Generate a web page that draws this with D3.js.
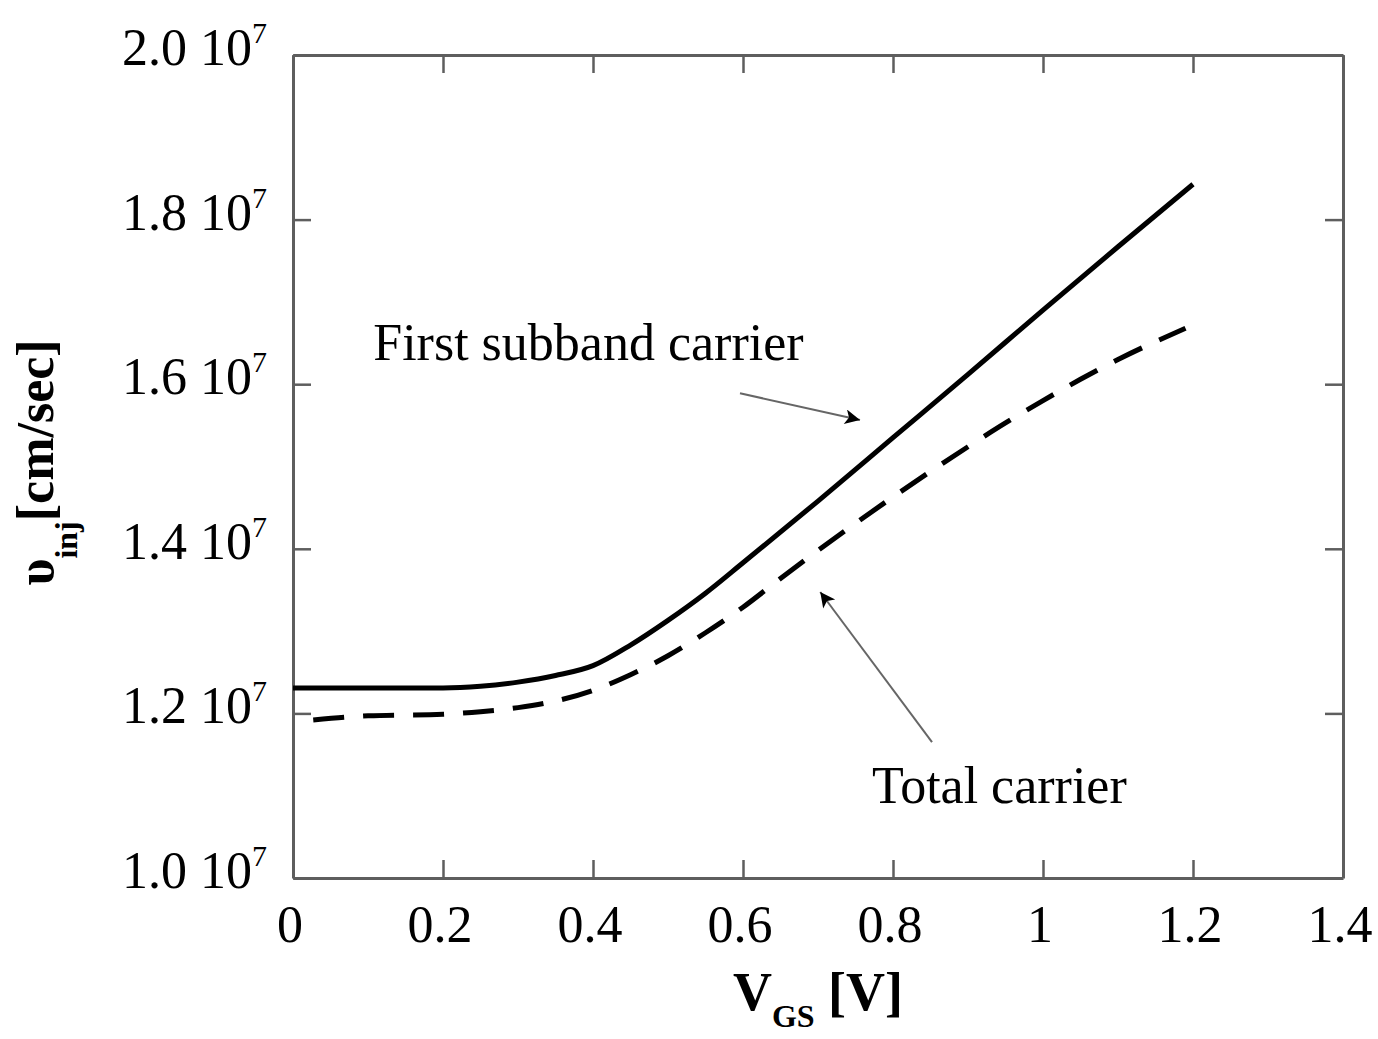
<!DOCTYPE html>
<html>
<head>
<meta charset="utf-8">
<script src="https://cdn.jsdelivr.net/npm/d3@7"></script>
<style>
  html, body { margin: 0; padding: 0; background: #fff; }
  svg { display: block; }
  text { font-family: "Liberation Serif", "Times New Roman", serif; fill: #000; }
</style>
</head>
<body>
<div id="chart"></div>
<script>
// V_GS [V] and injection velocity [1e7 cm/sec]
const firstVgs = [0, 0.1, 0.2, 0.25, 0.3, 0.35, 0.4, 0.45, 0.5, 0.55, 0.6, 0.7, 0.8, 0.9, 1.0, 1.1, 1.2];
const firstVinj = [1.231, 1.231, 1.231, 1.233, 1.238, 1.246, 1.258, 1.283, 1.313, 1.346, 1.383, 1.458, 1.535, 1.612, 1.690, 1.767, 1.843];

const totalVgs = [0.027, 0.1, 0.2, 0.25, 0.3, 0.35, 0.4, 0.45, 0.5, 0.55, 0.6, 0.65, 0.7, 0.75, 0.8, 0.85, 0.9, 0.95, 1.0, 1.05, 1.1, 1.19];
const totalVinj = [1.192, 1.197, 1.199, 1.202, 1.207, 1.215, 1.228, 1.247, 1.270, 1.298, 1.329, 1.364, 1.398, 1.431, 1.463, 1.494, 1.524, 1.553, 1.580, 1.606, 1.630, 1.668];

const xTicks = [0, 0.2, 0.4, 0.6, 0.8, 1, 1.2, 1.4];
const yTicks = [1.0, 1.2, 1.4, 1.6, 1.8, 2.0];

// annotation labels and their arrows (data coordinates)
const labelTexts = ["First subband carrier", "Total carrier"];
const labelAt = [[0.107, 1.629], [0.772, 1.091]];
const arrowFrom = [[0.596, 1.589], [0.852, 1.165]];
const arrowTo = [[0.756, 1.5565], [0.703, 1.3475]];

const W = 1378, H = 1039;
const margin = { top: 55, right: 35, bottom: 161, left: 293 };

class InjectionVelocityChart {
  constructor(domId) {
    this._svg = d3.select(domId).append("svg")
      .attr("width", W)
      .attr("height", H);
    this._w = W - margin.left - margin.right;
    this._h = H - margin.top - margin.bottom;
    this._g = this._svg.append("g")
      .attr("transform", `translate(${margin.left},${margin.top})`);
    this._x = d3.scaleLinear().domain([0, 1.4]).range([0, this._w]);
    this._y = d3.scaleLinear().domain([1.0, 2.0]).range([this._h, 0]);
  }

  render() {
    this.renderFrame();
    this.renderAxes();
    this.renderCurves();
    this.renderAnnotations();
    this.renderTitles();
  }

  // 边框 + 四周刻度
  renderFrame() {
    const tickLen = 18;
    const frame = { stroke: "#5e5e5e", width: 3 };

    const mk = (axis, transform) => this._g.append("g")
      .attr("transform", transform)
      .call(axis)
      .call(g => g.select(".domain").attr("stroke", frame.stroke).attr("stroke-width", frame.width))
      .call(g => g.selectAll(".tick line").attr("stroke", frame.stroke).attr("stroke-width", 2.5))
      .call(g => g.selectAll(".tick text").remove());

    mk(d3.axisBottom(this._x).tickValues(xTicks).tickSizeInner(-tickLen).tickSizeOuter(0), `translate(0,${this._h})`);
    mk(d3.axisTop(this._x).tickValues(xTicks).tickSizeInner(-tickLen).tickSizeOuter(0), "translate(0,0)");
    mk(d3.axisLeft(this._y).tickValues(yTicks).tickSizeInner(-tickLen).tickSizeOuter(0), "translate(0,0)");
    mk(d3.axisRight(this._y).tickValues(yTicks).tickSizeInner(-tickLen).tickSizeOuter(0), `translate(${this._w},0)`);
  }

  // 刻度文字
  renderAxes() {
    const fmtX = d3.format("~g");
    const fmtY = d3.format(".1f");

    this._g.append("g").selectAll("text")
      .data(xTicks)
      .join("text")
      .attr("x", d => this._x(d) - 3)
      .attr("y", this._h + 64)
      .attr("text-anchor", "middle")
      .attr("font-size", 52)
      .text(d => fmtX(d));

    const yl = this._g.append("g").selectAll("text")
      .data(yTicks)
      .join("text")
      .attr("x", -26)
      .attr("y", d => this._y(d) + 10)
      .attr("text-anchor", "end")
      .attr("font-size", 52);
    yl.append("tspan").text(d => fmtY(d) + " 10");
    yl.append("tspan").attr("dy", -22).attr("font-size", 30).text("7");
  }

  renderCurves() {
    const line = d3.line()
      .x(d => this._x(d[0]))
      .y(d => this._y(d[1]))
      .curve(d3.curveMonotoneX);

    const first = d3.zip(firstVgs, firstVinj);
    const total = d3.zip(totalVgs, totalVinj);

    this._g.append("path")
      .datum(first)
      .attr("d", line)
      .attr("fill", "none")
      .attr("stroke", "#000")
      .attr("stroke-width", 5);

    this._g.append("path")
      .datum(total)
      .attr("d", line)
      .attr("fill", "none")
      .attr("stroke", "#000")
      .attr("stroke-width", 5)
      .attr("stroke-dasharray", "31,19");
  }

  renderAnnotations() {
    const x = this._x, y = this._y;

    this._svg.append("defs").append("marker")
      .attr("id", "head")
      .attr("viewBox", "0 0 10 10")
      .attr("refX", 10)
      .attr("refY", 5)
      .attr("markerUnits", "userSpaceOnUse")
      .attr("markerWidth", 24)
      .attr("markerHeight", 15)
      .attr("orient", "auto")
      .append("path")
      .attr("d", "M0,0L10,5L0,10L2.5,5Z")
      .attr("fill", "#000");

    this._g.append("g").selectAll("line")
      .data(d3.range(arrowFrom.length))
      .join("line")
      .attr("x1", i => x(arrowFrom[i][0]))
      .attr("y1", i => y(arrowFrom[i][1]))
      .attr("x2", i => x(arrowTo[i][0]))
      .attr("y2", i => y(arrowTo[i][1]))
      .attr("stroke", "#666")
      .attr("stroke-width", 2)
      .attr("marker-end", "url(#head)");

    this._g.append("g").selectAll("text")
      .data(labelTexts)
      .join("text")
      .attr("x", (d, i) => x(labelAt[i][0]))
      .attr("y", (d, i) => y(labelAt[i][1]))
      .attr("font-size", 52)
      .text(d => d);
  }

  renderTitles() {
    const xt = this._g.append("text")
      .attr("x", this._w / 2)
      .attr("y", this._h + 132)
      .attr("text-anchor", "middle")
      .attr("font-weight", "bold")
      .attr("font-size", 54);
    xt.append("tspan").text("V");
    xt.append("tspan").attr("dy", 17).attr("font-size", 32).text("GS");
    xt.append("tspan").attr("dy", -17).text(" [V]");

    const yt = this._svg.append("text")
      .attr("transform", `translate(53,${margin.top + this._h / 2 - 4}) rotate(-90)`)
      .attr("text-anchor", "middle")
      .attr("font-weight", "bold")
      .attr("font-size", 52);
    yt.append("tspan").text("υ");
    yt.append("tspan").attr("dy", 24).attr("font-size", 32).text("inj");
    yt.append("tspan").attr("dy", -24).text("[cm/sec]");
  }
}

new InjectionVelocityChart("#chart").render();
</script>
</body>
</html>
